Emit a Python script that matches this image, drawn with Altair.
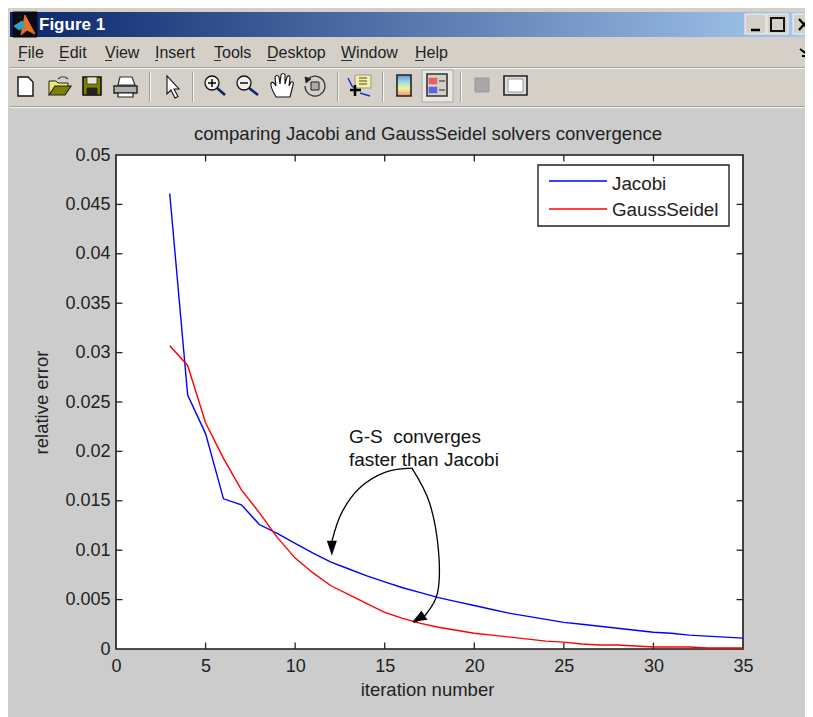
import altair as alt
import pandas as pd

FONT = "Liberation Sans"
INK = "#222222"
OX, OY = 116, 155  # plot origin in screenshot pixels
PW, PH = 627, 494

# ---------- chart data ----------
iterations = list(range(3, 36))
jacobi = [.0461, .0257, .0218, .0152, .0146, .0126, .0117, .0107, .0097, .0088, .0081,
          .0074, .0068, .0062, .0057, .0052, .0048, .0044, .0040, .0036, .0033, .0030,
          .0027, .0025, .0023, .0021, .0019, .0017, .0016, .0014, .0013, .0012, .0011]
gauss_seidel = [.0307, .0287, .0229, .0193, .0161, .0138, .0113, .0092, .0077, .0064, .0055,
                .0046, .0037, .0031, .0026, .0022, .0019, .0016, .0014, .0012, .0010, .0008,
                .0007, .0005, .0004, .0004, .0003, .0002, .0002, .0002, .0001, .0001, .0001]
series_names = ["Jacobi", "GaussSeidel"]
series_colors = ["#0000ff", "#ff0000"]
x_ticks = [0, 5, 10, 15, 20, 25, 30, 35]
y_ticks = [0, .005, .01, .015, .02, .025, .03, .035, .04, .045, .05]
title_text = "comparing Jacobi and GaussSeidel solvers convergence"
x_label = "iteration number"
y_label = "relative error"
note_lines = ["G-S\u00a0 converges", "faster than Jacobi"]
note_x = [13.0, 13.0]
note_y = [.02150, .01915]
arrow1_x = [16.55, 15.05, 13.6, 12.6, 12.05]
arrow1_y = [.01830, .01790, .01630, .01380, .01090]
arrow2_x = [16.52, 17.5, 18.0, 17.95, 17.25, 16.6]
arrow2_y = [.01830, .01480, .01000, .00570, .00340, .00270]
arrow_tip_x = [12.05, 16.55]
arrow_tip_y = [.00945, .00275]
arrow_heads = ["M0 0 L-5 -15 L5 -15 Z", "M0 0 L9 -11 L15 -2 Z"]

# ---------- window furniture (screenshot pixels) ----------
rects = [
    (4, 6, 813, 717, "#d4d0c8"),
    (6, 108, 813, 717, "#cccccc"),
    (10, 67, 813, 68, "#a0a0a0"),
    (10, 68, 813, 69, "#f4f4f0"),
    (10, 106, 813, 107, "#a0a0a0"),
    (10, 107, 813, 108, "#f4f4f0"),
    (149, 72, 150, 102, "#a0a0a0"), (150, 72, 151, 102, "#f4f4f0"),
    (192, 72, 193, 102, "#a0a0a0"), (193, 72, 194, 102, "#f4f4f0"),
    (337, 72, 338, 102, "#a0a0a0"), (338, 72, 339, 102, "#f4f4f0"),
    (382, 72, 383, 102, "#a0a0a0"), (383, 72, 384, 102, "#f4f4f0"),
    (460, 72, 461, 102, "#a0a0a0"), (461, 72, 462, 102, "#f4f4f0"),
    (18, 60, 25, 61, "#333333"), (59, 60, 66, 61, "#333333"), (105, 60, 112, 61, "#333333"),
    (155, 60, 158, 61, "#333333"), (214, 60, 221, 61, "#333333"), (267, 60, 276, 61, "#333333"),
    (341, 60, 352, 61, "#333333"), (415, 60, 424, 61, "#333333"),
]
icons = [
    # logo
    ("M13 12 H37 V37 H13 Z", "#0a0a14", "#0a0a14", 1),
    ("M25 15 L35 34 L27 30 L21 35 Z", "#e87020", "#e87020", 1),
    ("M14 26 L22 21 L25 27 L19 30 Z", "#38a0c0", "#38a0c0", 1),
    # window buttons
    ("M745 14 H766 V34 H745 Z", "#d4d0c8", "#f4f4f0", 1),
    ("M767 14 H788 V34 H767 Z", "#d4d0c8", "#f4f4f0", 1),
    ("M793 14 H813 V34 H793 Z", "#d4d0c8", "#f4f4f0", 1),
    ("M751 30 H760", "transparent", "#000000", 2.5),
    ("M771 18 H784 V31 H771 Z", "transparent", "#111111", 2),
    ("M799 19 L809 30 M809 19 L799 30", "transparent", "#000000", 2.2),
    ("M800 49 L808 55 M808 50 V56 H802", "transparent", "#000000", 2),
    # new, open, save, print
    ("M18 77 H28 L33 82 V96 H18 Z", "#ffffff", "#111111", 1.4),
    ("M49 95 V81 H56 L58 83 H68 V87", "#ecec70", "#222222", 1),
    ("M49 95 L55 86 H71 L65 95 Z", "#808000", "#222222", 1.2),
    ("M58 79 C61 76 65 76 68 79", "transparent", "#444444", 1.2),
    ("M83 77 H101 V95 H83 Z", "#808000", "#111111", 1.6),
    ("M87 77 H97 V84 H87 Z", "#e8e8d8", "#333333", 0.8),
    ("M87 88 H97 V95 H87 Z", "#222222", "#222222", 0.8),
    ("M120 77 H132 L135 85 H118 Z", "#ffffff", "#333333", 1.2),
    ("M114 86 H137 V93 H114 Z", "#b0b0b0", "#222222", 1.4),
    ("M118 93 H133 V97 H118 Z", "#ffffff", "#222222", 1.2),
    # pointer
    ("M167 76 V94 L171 90 L175 98 L178 96.5 L174 89 H179 Z", "#ffffff", "#111111", 1.1),
    # magnifiers
    ("M217 88 L225 95", "transparent", "#0a246a", 2.6),
    ("M205 83 A7 7 0 1 0 219 83 A7 7 0 1 0 205 83 Z", "#f0f0ee", "#111111", 1.3),
    ("M208 83 H216 M212 79 V87", "transparent", "#000000", 1.4),
    ("M249 88 L258 95", "transparent", "#0a246a", 2.6),
    ("M237 83 A7 7 0 1 0 251 83 A7 7 0 1 0 237 83 Z", "#f0f0ee", "#111111", 1.3),
    ("M240 83 H248", "transparent", "#000000", 1.4),
    # hand
    ("M276 97 C272 90 270 86 271 83 C273 81 275 84 276 86 L275 77 C276 75 278 75 279 77 L280 84 "
     "L281 75 C282 73 284 73 285 75 L285 84 L287 77 C288 75 290 75 290 78 L289 86 L291 82 "
     "C293 81 294 83 293 85 L290 97 Z", "#ffffff", "#111111", 1.1),
    # rotate
    ("M308 79 A10 10 0 1 1 305 86", "transparent", "#333333", 1.3),
    ("M305 77 L311 79 L306 83 Z", "#222222", "#222222", 0.8),
    ("M311 82 H319 V90 H311 Z", "#aaaaaa", "#222222", 1),
    # insert legend
    ("M348 78 L352 86 L357 90 M360 93 L370 96", "transparent", "#2233cc", 1.5),
    ("M355 75 H371 V88 H355 Z", "#f5f0a0", "#999999", 1),
    ("M359 78 H367 M359 81 H367 M359 84 H367", "transparent", "#333333", 0.9),
    ("M350 90 H361 M355 85 V96", "transparent", "#000000", 2.5),
    # legend toggle
    ("M422 70 H453 V102 H422 Z", "#e8e6e0", "#aaaaaa", 1),
    ("M427 74 H447 V96 H427 Z", "#d4d0c8", "#333333", 1.6),
    ("M429 78 H437 V84 H429 Z", "#e86060", "#e86060", 0.5),
    ("M429 87 H437 V93 H429 Z", "#6060e0", "#6060e0", 0.5),
    ("M439 81 H445 M439 90 H445", "transparent", "#222222", 1.2),
    # plot tools, hide
    ("M475 78 H489 V92 H475 Z", "#a8a8a8", "#999999", 1),
    ("M504 76 H527 V95 H504 Z", "#dddddd", "#222222", 1.6),
    ("M508 79 H523 V92 H508 Z", "#ffffff", "#999999", 1),
]
menu_items = ["File", "Edit", "View", "Insert", "Tools", "Desktop", "Window", "Help"]
menu_x = [18, 59, 105, 155, 214, 267, 341, 415]

# ---------- tables ----------
lines_df = pd.concat([
    pd.DataFrame({"x": iterations, "y": jacobi, "s": series_names[0]}),
    pd.DataFrame({"x": iterations, "y": gauss_seidel, "s": series_names[1]}),
])
rect_df = pd.DataFrame([
    {"x": a - OX, "x2": c - OX, "y": b - OY, "y2": d - OY, "c": e} for a, b, c, d, e in rects
])
icon_df = pd.DataFrame([
    {"x": -OX, "y": -OY, "d": d, "f": f, "st": s, "w": w, "i": i} for i, (d, f, s, w) in enumerate(icons)
])
menu_df = pd.DataFrame({"x": [m - OX for m in menu_x], "y": [53 - OY] * len(menu_x), "t": menu_items})

xs = alt.Scale(domain=[0, 35], nice=False, zero=False)
ys = alt.Scale(domain=[0, 0.05], nice=False, zero=False)
X = lambda f: alt.X(f, type="quantitative", scale=xs, axis=None)
Y = lambda f: alt.Y(f, type="quantitative", scale=ys, axis=None)
PXX = alt.X("x:Q", scale=None, axis=None)
PYY = alt.Y("y:Q", scale=None, axis=None)


def gradient(stops, horizontal=True):
    return alt.LinearGradient(
        gradient="linear",
        stops=[alt.GradientStop(color=c, offset=o) for o, c in stops],
        x1=0, y1=0, x2=1 if horizontal else 0, y2=0 if horizontal else 1,
    )


def box(x1, y1, x2, y2):
    return dict(x=alt.value(x1 - OX), x2=alt.value(x2 - OX), y=alt.value(y1 - OY), y2=alt.value(y2 - OY))


def label(text, x, y, size, **kw):
    return alt.Chart(pd.DataFrame({"t": [text]})).mark_text(
        font=FONT, fontSize=size, align=kw.pop("align", "left"), baseline="middle", **kw
    ).encode(x=alt.value(x - OX), y=alt.value(y - OY), text="t:N")


# ---------- layers ----------
furniture = alt.Chart(rect_df).mark_rect().encode(
    x=PXX, x2="x2:Q", y=PYY, y2="y2:Q", fill=alt.Fill("c:N", scale=None, legend=None)
)
titlebar = alt.Chart(pd.DataFrame({"a": [0]})).mark_rect(
    fill=gradient([(0, "#0a246a"), (1, "#a6caf0")])
).encode(**box(10, 12, 813, 37))
colorbar = alt.Chart(pd.DataFrame({"a": [0]})).mark_rect(
    fill=gradient([(0, "#6f8fe0"), (.35, "#a0e0dc"), (.65, "#f5f0a0"), (1, "#f0906a")], False),
    stroke="#222222", strokeWidth=1.6,
).encode(**box(397, 75, 411, 96))
icon_layer = alt.Chart(icon_df).mark_point(filled=True, opacity=1, size=4).encode(
    x=PXX, y=PYY,
    shape=alt.Shape("d:N", scale=None, legend=None),
    fill=alt.Fill("f:N", scale=None, legend=None),
    stroke=alt.Stroke("st:N", scale=None, legend=None),
    strokeWidth=alt.StrokeWidth("w:Q", scale=None, legend=None),
    order="i:Q",
)
window_title = label("Figure 1", 39, 25, 17, fontWeight="bold", color="#ffffff")
menu = alt.Chart(menu_df).mark_text(
    font=FONT, fontSize=16, align="left", baseline="middle", color="#222222"
).encode(x=PXX, y=PYY, text="t:N")
frame = alt.Chart(pd.DataFrame({"a": [0]})).mark_rect(
    fill="#ffffff", stroke="#1a1a1a", strokeWidth=1.6
).encode(x=alt.value(0), x2=alt.value(PW), y=alt.value(0), y2=alt.value(PH))
plot_title = label(title_text, 428, 134, 18.6, align="center", color=INK)

axes = alt.Chart(lines_df).mark_line(opacity=0).encode(
    x=alt.X("x:Q", scale=xs, axis=alt.Axis(
        values=x_ticks, title=x_label, grid=False, domain=False, tickSize=0, labelPadding=8,
        labelFont=FONT, labelFontSize=18, labelColor=INK, titleFont=FONT, titleFontSize=18.5,
        titleFontWeight="normal", titleColor=INK, titlePadding=5, titleX=311, format="~g", zindex=1,
        labelFlush=False)),
    y=alt.Y("y:Q", scale=ys, axis=alt.Axis(
        values=y_ticks, title=y_label, grid=False, domain=False, tickSize=0, labelPadding=6,
        labelFont=FONT, labelFontSize=18, labelColor=INK, titleFont=FONT, titleFontSize=18.5,
        titleFontWeight="normal", titleColor=INK, titlePadding=13, format="~g", zindex=1)),
)

tick_x = [v for v in x_ticks[1:-1]]
tick_y = [v for v in y_ticks[1:-1]]
tick_len_y, tick_len_x = 0.00065, 0.36
vt = pd.DataFrame({
    "x": tick_x * 2,
    "y": [0] * len(tick_x) + [0.05] * len(tick_x),
    "y2": [tick_len_y] * len(tick_x) + [0.05 - tick_len_y] * len(tick_x),
})
ht = pd.DataFrame({
    "y": tick_y * 2,
    "x": [0] * len(tick_y) + [35] * len(tick_y),
    "x2": [tick_len_x] * len(tick_y) + [35 - tick_len_x] * len(tick_y),
})
v_ticks = alt.Chart(vt).mark_rule(color="#222222", strokeWidth=1.3).encode(x=X("x"), y=Y("y"), y2="y2:Q")
h_ticks = alt.Chart(ht).mark_rule(color="#222222", strokeWidth=1.3).encode(y=Y("y"), x=X("x"), x2="x2:Q")

curves = alt.Chart(lines_df).mark_line(strokeWidth=1.4, clip=True).encode(
    x=X("x"), y=Y("y"),
    color=alt.Color("s:N", scale=alt.Scale(domain=series_names, range=series_colors), legend=None),
)

arrow_1 = alt.Chart(pd.DataFrame({"x": arrow1_x, "y": arrow1_y, "i": range(len(arrow1_x))})).mark_line(
    color="#000000", strokeWidth=1.3, interpolate="cardinal"
).encode(x=alt.X("x:Q", scale=xs, axis=None), y=Y("y"), order="i:Q")
arrow_2 = alt.Chart(pd.DataFrame({"x": arrow2_x, "y": arrow2_y, "i": range(len(arrow2_x))})).mark_line(
    color="#000000", strokeWidth=1.3, interpolate="cardinal"
).encode(x=alt.X("x:Q", scale=xs, axis=None), y=Y("y"), order="i:Q")
heads = alt.Chart(pd.DataFrame({"x": arrow_tip_x, "y": arrow_tip_y, "d": arrow_heads})).mark_point(
    filled=True, opacity=1, size=4, color="#000000"
).encode(x=X("x"), y=Y("y"), shape=alt.Shape("d:N", scale=None, legend=None))
notes = alt.Chart(pd.DataFrame({"x": note_x, "y": note_y, "t": note_lines})).mark_text(
    font=FONT, fontSize=19, align="left", baseline="middle", color="#111111"
).encode(x=X("x"), y=Y("y"), text="t:N")

legend_box = alt.Chart(pd.DataFrame({"a": [0]})).mark_rect(
    fill="#ffffff", stroke="#222222", strokeWidth=1.4
).encode(**box(538, 165, 729, 226))
legend_y = [181, 209]
legend_lines = [
    alt.Chart(pd.DataFrame({"s": [series_names[i]]})).mark_rule(color=series_colors[i], strokeWidth=1.4).encode(
        x=alt.value(549 - OX), x2=alt.value(607 - OX), y=alt.value(legend_y[i] - OY)
    ) for i in range(2)
]
legend_text = [label(series_names[i], 612, [184, 210][i], 18.8, color=INK) for i in range(2)]

chart = alt.layer(
    furniture, titlebar, icon_layer, colorbar, window_title, menu, frame, plot_title,
    axes, v_ticks, h_ticks, curves, arrow_1, arrow_2, heads, notes,
    legend_box, *legend_lines, *legend_text,
).resolve_scale(
    x="independent", y="independent", color="independent", fill="independent",
    stroke="independent", shape="independent", strokeWidth="independent",
).resolve_axis(x="independent", y="independent").properties(
    width=PW, height=PH,
    padding={"left": 108, "top": 147, "right": 62, "bottom": 68},
    autosize=alt.AutoSizeParams(type="none"),
    background="#ffffff",
).configure_view(stroke=None)

chart.save("out.html", embed_options={"renderer": "svg", "actions": False})
